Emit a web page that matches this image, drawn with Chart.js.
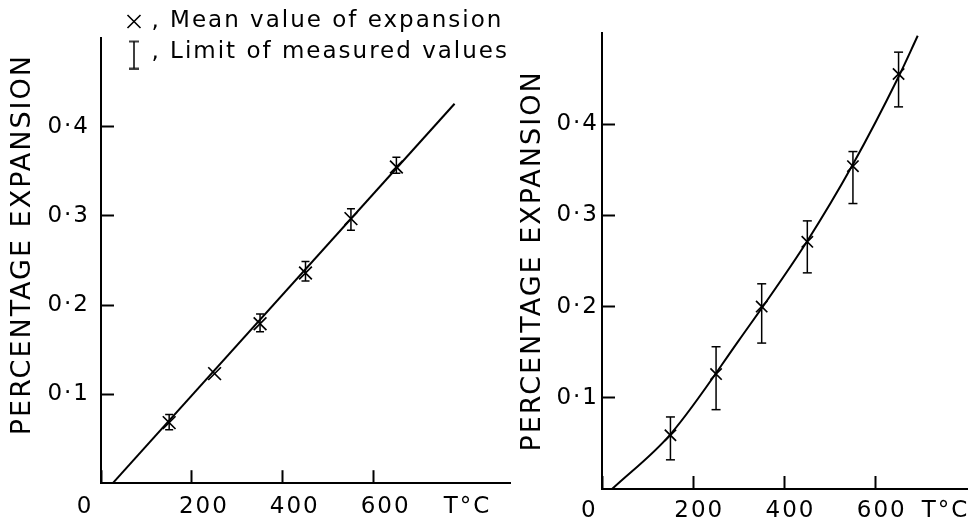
<!DOCTYPE html>
<html><head><meta charset="utf-8">
<script src="https://cdn.jsdelivr.net/npm/chart.js@4.4.1/dist/chart.umd.min.js"></script>
<style>
html,body{margin:0;padding:0;background:#fff;width:972px;height:521px;overflow:hidden}
canvas{position:absolute;top:0}
#left{left:0}
#right{left:500px}
</style></head><body>
<canvas id="left" width="530" height="521"></canvas>
<canvas id="right" width="490" height="521"></canvas>
<script>
// ---- data ----
const tempsC = [150, 250, 350, 450, 550, 650];
const leftMean = [0.068, 0.123, 0.179, 0.236, 0.297, 0.355];
const leftLow  = [0.060, null, 0.170, 0.227, 0.284, 0.348];
const leftHigh = [0.077, null, 0.190, 0.249, 0.308, 0.366];
const leftFitT = [26, 778];
const leftFitV = [0, 0.426];
const rightMean = [0.059, 0.126, 0.200, 0.271, 0.354, 0.455];
const rightLow  = [0.032, 0.087, 0.160, 0.237, 0.313, 0.419];
const rightHigh = [0.079, 0.156, 0.225, 0.294, 0.370, 0.479];
const rightFitT = [22, 150, 300, 450, 550, 650, 692];
const rightFitV = [0, 0.060, 0.163, 0.272, 0.356, 0.452, 0.497];
const xTickValues = [0, 200, 400, 600];
const xTickLabels = ['0', '200', '400', '600'];
const yTickValues = [0.1, 0.2, 0.3, 0.4];
const yTickLabels = ['0·1', '0·2', '0·3', '0·4'];
const unitLabel = 'T°C';
const yTitle = 'PERCENTAGE EXPANSION';
const legendLabels = [', Mean value of expansion', ', Limit of measured values'];

const FONT = 'DejaVu Sans';
Chart.defaults.font.family = FONT;
Chart.defaults.color = '#000';
const NBSP = '\u00A0';

function meanPoints(t, v) { return t.map((x, i) => ({x: x, y: v[i]})); }
function stemPoints(t, lo, hi) {
  const out = [];
  t.forEach((x, i) => { if (lo[i] == null) return; out.push({x: x, y: lo[i]}, {x: x, y: hi[i]}, {x: x, y: null}); });
  return out;
}
function capPoints(t, lo, hi) {
  const out = [];
  t.forEach((x, i) => { if (lo[i] == null) return; out.push({x: x, y: lo[i]}, {x: x, y: hi[i]}); });
  return out;
}
function makeIBar() {
  const c = document.createElement('canvas');
  c.width = 12; c.height = 34;
  const g = c.getContext('2d');
  g.strokeStyle = '#000'; g.lineWidth = 1.5;
  g.beginPath();
  g.moveTo(6, 6); g.lineTo(6, 33);
  g.moveTo(1, 6); g.lineTo(11, 6);
  g.moveTo(1, 33); g.lineTo(11, 33);
  g.stroke();
  return c;
}

const spacingPlugin = {
  id: 'spacing',
  beforeLayout(c) { c.ctx.letterSpacing = '2px'; },
  beforeDraw(c) { c.ctx.letterSpacing = '2px'; }
};
function legendPlacer(left, top) {
  return {
    id: 'legendPlacer',
    afterLayout(c) {
      const lg = c.legend;
      if (!lg) return;
      lg.left = left; lg.top = top; lg.right = c.width; lg.bottom = top + 100;
    }
  };
}

function makeScales(o) {
  return {
    x: {
      type: 'linear', min: 0, max: o.xMax, position: 'bottom',
      afterFit(s) { s.height = o.xHeight; },
      afterBuildTicks(s) { s.ticks = xTickValues.map(v => ({value: v})).concat([{value: o.unitTick}]); },
      ticks: {
        autoSkip: false, maxRotation: 0, minRotation: 0, padding: o.xPad, labelOffset: o.xLabelOffset,
        font: {size: 23}, color: '#000',
        callback: (v) => {
          if (v === o.unitTick) return unitLabel;
          const i = xTickValues.indexOf(v);
          if (i < 0) return '';
          return i === 0 ? xTickLabels[0] + NBSP.repeat(o.zeroPad) : xTickLabels[i];
        }
      },
      grid: {
        display: true, drawOnChartArea: false, drawTicks: true, tickLength: -13, tickWidth: 2,
        tickColor: (ctx) => (ctx.tick && ctx.tick.value === o.unitTick) ? 'rgba(0,0,0,0)' : '#000'
      },
      border: {display: true, color: '#000', width: 2}
    },
    y: {
      type: 'linear', min: 0, max: 0.5, position: 'left',
      afterFit(s) { s.width = o.yWidth; },
      afterBuildTicks(s) { s.ticks = yTickValues.map(v => ({value: v})); },
      ticks: {
        padding: o.yPad, font: {size: 23}, color: '#000',
        callback: (v) => { const i = yTickValues.indexOf(v); return i < 0 ? '' : yTickLabels[i]; }
      },
      grid: {display: true, drawOnChartArea: false, drawTicks: true, tickLength: -13, tickWidth: 2, tickColor: '#000'},
      border: {display: true, color: '#000', width: 2},
      title: {display: true, text: o.title, font: {size: 27}, color: '#000', padding: {top: o.titlePad, bottom: 0}}
    }
  };
}

function makeDatasets(o) {
  return [
    {label: 'fit', data: meanPoints(o.fitT, o.fitV), showLine: true, borderColor: '#000', borderWidth: 2,
     pointRadius: 0, cubicInterpolationMode: o.curved ? 'monotone' : 'default', fill: false},
    {label: 'limits', data: stemPoints(tempsC, o.low, o.high), showLine: true, spanGaps: false,
     borderColor: '#000', borderWidth: 1.5, pointRadius: 0},
    {label: 'caps', data: capPoints(tempsC, o.low, o.high), showLine: false, pointStyle: 'line',
     pointRadius: o.capR, borderColor: '#000', borderWidth: 1.5},
    {label: 'mean', data: meanPoints(tempsC, o.mean), showLine: false, pointStyle: 'crossRot',
     pointRadius: o.markR, borderColor: '#000', backgroundColor: 'rgba(0,0,0,0)', borderWidth: 1.7}
  ];
}

const leftOpts = {xMax: 900, xHeight: 36, unitTick: 780, xPad: 23, xLabelOffset: 12, zeroPad: 6,
  yWidth: 101, yPad: 24, titlePad: 7, title: NBSP.repeat(3) + yTitle,
  fitT: leftFitT, fitV: leftFitV, curved: false, mean: leftMean, low: leftLow, high: leftHigh, capR: 4, markR: 9};
const rightOpts = {xMax: 800, xHeight: 32, unitTick: 740, xPad: 21, xLabelOffset: 6, zeroPad: 4,
  yWidth: 102, yPad: 16, titlePad: 17, title: yTitle,
  fitT: rightFitT, fitV: rightFitV, curved: true, mean: rightMean, low: rightLow, high: rightHigh, capR: 4.5, markR: 8};

new Chart(document.getElementById('left'), {
  type: 'scatter',
  data: {datasets: makeDatasets(leftOpts)},
  options: {
    responsive: false, animation: false, devicePixelRatio: 1, events: [],
    layout: {padding: {left: 0, top: 32, right: 20, bottom: 0}},
    scales: makeScales(leftOpts),
    plugins: {
      tooltip: {enabled: false},
      legend: {
        display: true, position: 'chartArea', align: 'start',
        labels: {
          usePointStyle: true, boxWidth: 12, boxHeight: 13, padding: 8,
          font: {size: 23, family: FONT}, color: '#000',
          generateLabels: () => [
            {text: legendLabels[0], pointStyle: 'crossRot', fillStyle: 'rgba(0,0,0,0)', strokeStyle: '#000',
             lineWidth: 1.6, hidden: false, datasetIndex: 3},
            {text: legendLabels[1], pointStyle: makeIBar(), fillStyle: 'rgba(0,0,0,0)', strokeStyle: '#000',
             lineWidth: 1.5, hidden: false, datasetIndex: 1}
          ]
        }
      }
    }
  },
  plugins: [spacingPlugin, legendPlacer(120, 2)]
});

new Chart(document.getElementById('right'), {
  type: 'scatter',
  data: {datasets: makeDatasets(rightOpts)},
  options: {
    responsive: false, animation: false, devicePixelRatio: 1, events: [],
    layout: {padding: {left: 0, top: 33, right: 23, bottom: 0}},
    scales: makeScales(rightOpts),
    plugins: {tooltip: {enabled: false}, legend: {display: false}}
  },
  plugins: [spacingPlugin]
});
</script>
</body></html>
